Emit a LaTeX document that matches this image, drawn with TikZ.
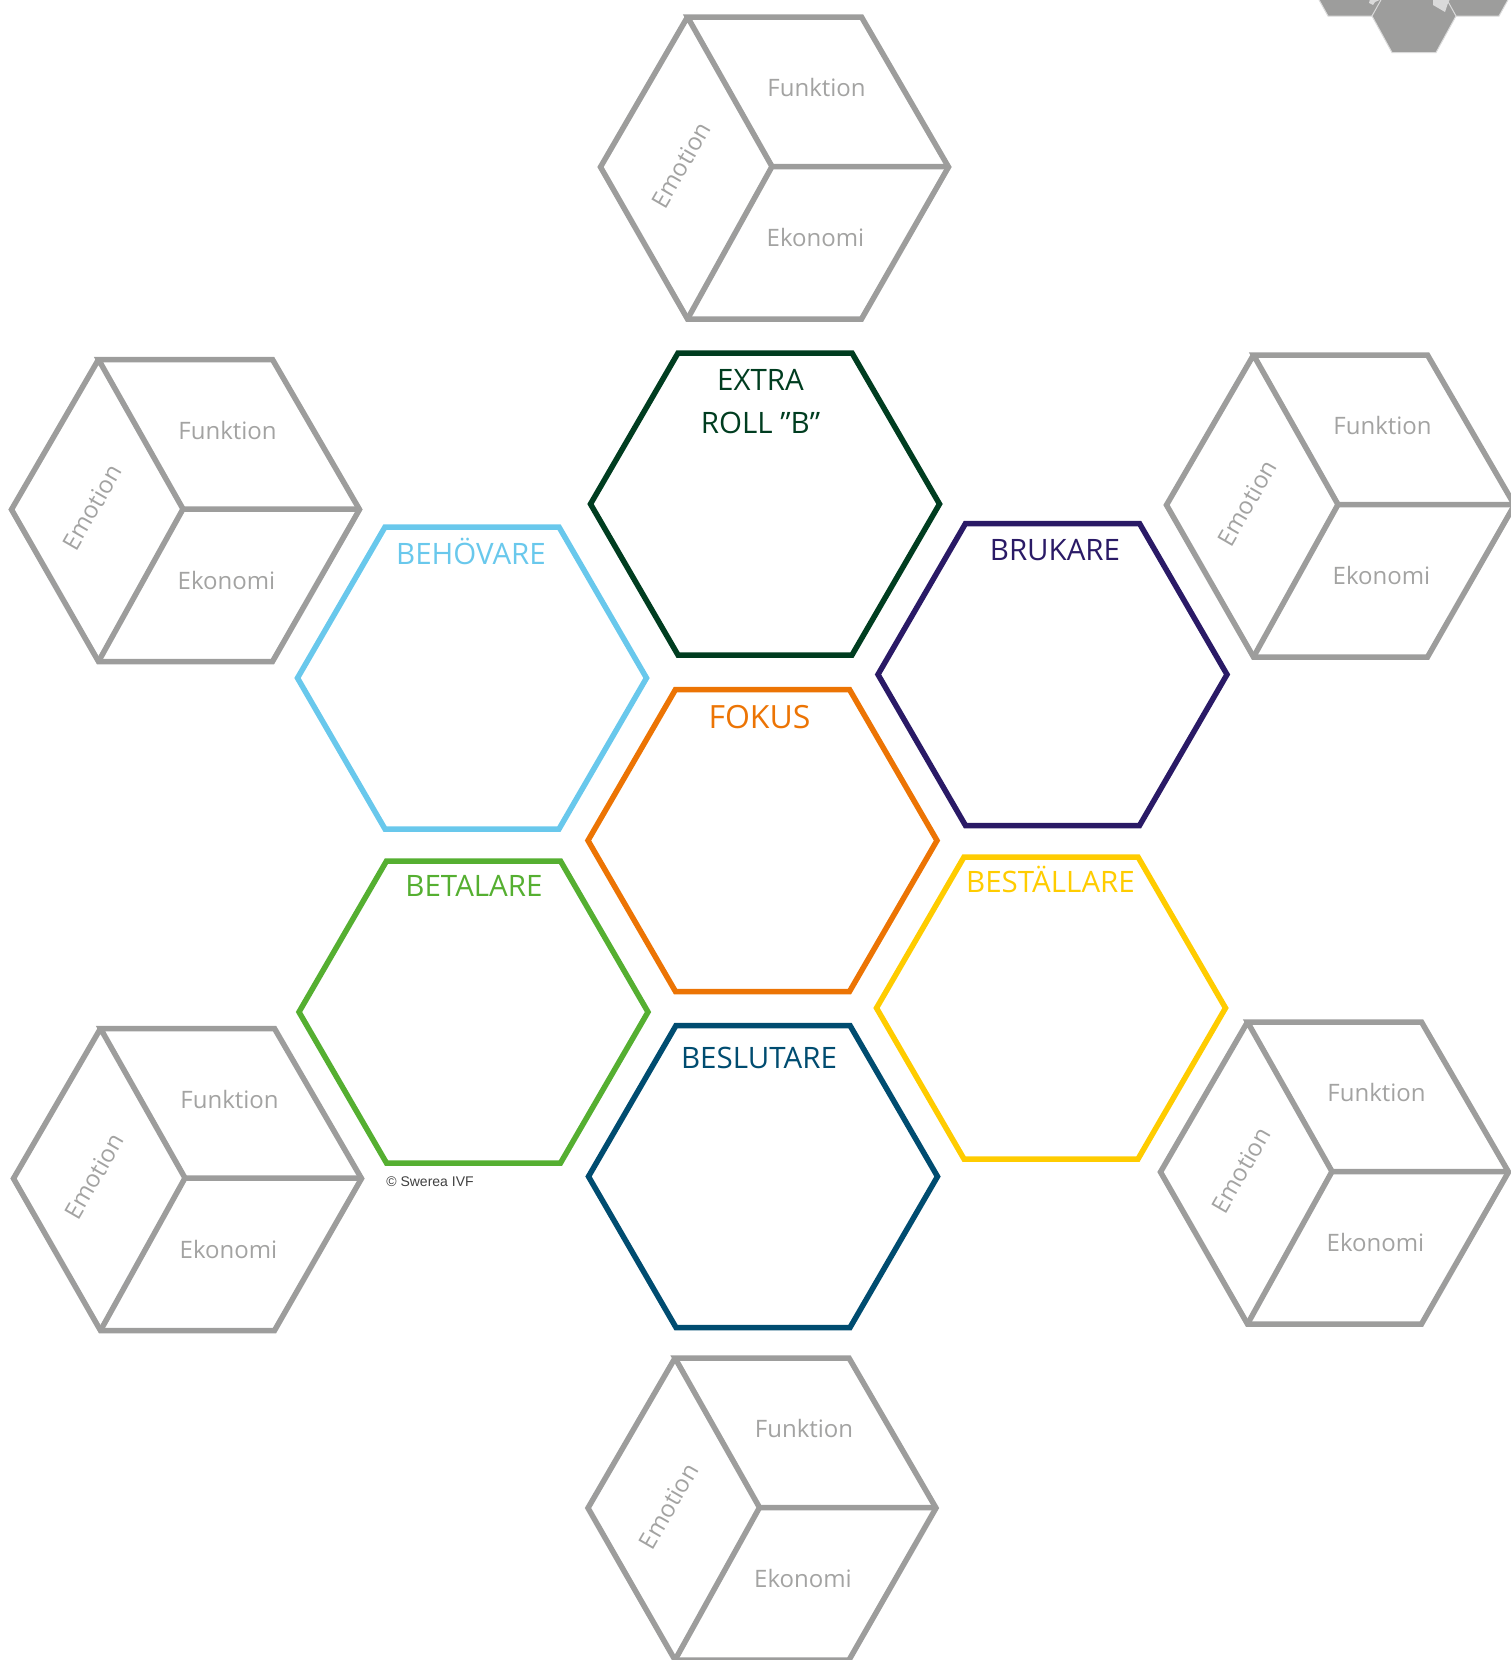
\documentclass[tikz,border=0pt]{standalone}
\usepackage{fontspec}
\setmainfont{Open Sans}
\newfontfamily\credit{Liberation Sans}
\definecolor{cubegrey}{HTML}{9D9D9C}
\definecolor{cubetext}{HTML}{A3A3A2}
\definecolor{iconedge}{HTML}{DADADA}
\definecolor{cextra}{HTML}{003D20}
\definecolor{cbehov}{HTML}{69C8EC}
\definecolor{cbruk}{HTML}{2A1A66}
\definecolor{cfokus}{HTML}{EC7404}
\definecolor{cbetal}{HTML}{55AF31}
\definecolor{cbest}{HTML}{FFCC00}
\definecolor{cbesl}{HTML}{004C70}
\tikzset{
  hexline/.style={line width=5.5pt,line join=miter},
  cubeline/.style={draw=cubegrey,line width=5.5pt,line join=miter},
  cubelabel/.style={text=cubetext,font=\fontsize{24}{28}\selectfont,inner sep=0pt},
  rolelabel/.style={font=\fontsize{29.5}{34}\selectfont,inner sep=0pt,anchor=base},
  iconhex/.style={fill=cubegrey,draw=iconedge,line width=1pt,line join=miter},
}
\newcommand{\rolehex}[3]{%
  \draw[hexline,draw=#3] (#1-174.5,#2) -- (#1-87,#2-151) -- (#1+87,#2-151) -- (#1+174.5,#2) -- (#1+87,#2+151) -- (#1-87,#2+151) -- cycle;}
\newcommand{\cube}[3]{%
  \coordinate (#3c) at (#1-1.5,#2-0.5);
  \coordinate (#3tl) at (#1-86,#2-150);
  \coordinate (#3bl) at (#1-86,#2+152);
  \draw[cubeline] (#3c) -- (#3tl) -- (#1+88,#2-150) -- (#1+175,#2) -- (#1+88,#2+152) -- (#3bl) -- (#1-173,#2) -- (#3tl);
  \draw[cubeline] (#1+175,#2-0.5) -- (#3c) -- (#3bl);
  \node[cubelabel] (#3f) at (#1+43,#2-79.5) {Funktion};
  \node[cubelabel] (#3k) at (#1+42,#2+70.5) {Ekonomi};
  \node[cubelabel,rotate=60] (#3m) at (#1-92.5,#2-2) {Emotion};}
\begin{document}
\begin{tikzpicture}[x=1pt,y=-1pt]
\useasboundingbox (0,0) rectangle (1511,1660);
\begin{scope}
\clip (0,0) rectangle (1511,1660);
\draw[iconhex] (1318,-2) -- (1328,16) -- (1372,16) -- (1384,-2);
\draw[iconhex] (1444,-2) -- (1455,16) -- (1499,16) -- (1509,-2);
\draw[iconhex] (1372,16) -- (1392,52.5) -- (1436,52.5) -- (1456,16) -- (1436,-20) -- (1392,-20) -- cycle;
\fill[iconedge] (1433,-1) -- (1433,5) -- (1445,12) -- (1448,3) -- (1450,-1) -- cycle;
\fill[iconedge] (1370,-1) -- (1369,3) -- (1373,5) -- (1375,2) -- (1382,-1) -- cycle;
\end{scope}
\cube{773.5}{167}{t}
\cube{184.5}{509.5}{lu}
\cube{1339.5}{505}{ru}
\cube{186.5}{1178.5}{ll}
\cube{1333.5}{1172}{rl}
\cube{761}{1508}{b}
\rolehex{765}{504}{cextra}
\rolehex{472}{678}{cbehov}
\rolehex{1052.5}{674.5}{cbruk}
\rolehex{762.5}{840.5}{cfokus}
\rolehex{473.5}{1012}{cbetal}
\rolehex{1051}{1008}{cbest}
\rolehex{763}{1176.5}{cbesl}
\node[rolelabel,text=cextra] (extra1) at (760.5,390) {EXTRA};
\node[rolelabel,text=cextra] (extra2) at (760.5,433) {ROLL ”B”};
\node[rolelabel,text=cbehov] (behov) at (471,564) {BEHÖVARE};
\node[rolelabel,text=cbruk] (bruk) at (1055,560.5) {BRUKARE};
\node[rolelabel,text=cfokus,font=\fontsize{32}{36}\selectfont] (fokus) at (759.5,728) {FOKUS};
\node[rolelabel,text=cbetal] (betal) at (474,896.5) {BETALARE};
\node[rolelabel,text=cbest] (best) at (1050.5,892) {BESTÄLLARE};
\node[rolelabel,text=cbesl] (besl) at (759,1068.5) {BESLUTARE};
\node[inner sep=0pt,text=black!75,font=\credit\fontsize{14}{16}\selectfont] (copy) at (430,1182) {© Swerea IVF};
\end{tikzpicture}
\end{document}
